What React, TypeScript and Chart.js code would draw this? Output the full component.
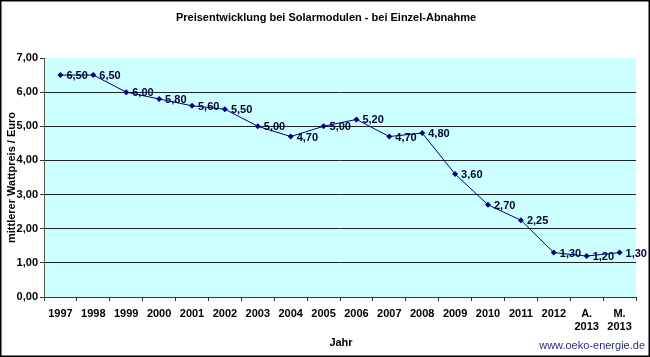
import React, { useEffect, useRef } from "react";
import { Chart, registerables } from "chart.js";

Chart.register(...registerables);

const categories: (string | string[])[] = [
  "1997", "1998", "1999", "2000", "2001", "2002", "2003", "2004", "2005",
  "2006", "2007", "2008", "2009", "2010", "2011", "2012", ["A.", "2013"], ["M.", "2013"],
];
const prices: number[] = [6.5, 6.5, 6.0, 5.8, 5.6, 5.5, 5.0, 4.7, 5.0, 5.2, 4.7, 4.8, 3.6, 2.7, 2.25, 1.3, 1.2, 1.3];
const yTicks: number[] = [0, 1, 2, 3, 4, 5, 6, 7];

const chartTitle = "Preisentwicklung bei Solarmodulen - bei Einzel-Abnahme";
const xTitle = "Jahr";
const yTitle = "mittlerer Wattpreis / Euro";
const watermark = "www.oeko-energie.de";

const FONT = "Arial, 'Liberation Sans', sans-serif";
const fmt = (v: number) => v.toFixed(2).replace(".", ",");

const decorPlugin = {
  id: "decor",
  beforeDraw(chart: any) {
    const { ctx, chartArea } = chart;
    ctx.save();
    ctx.fillStyle = "#ffffff";
    ctx.fillRect(0, 0, chart.width, chart.height);
    ctx.fillStyle = "#ccffff";
    ctx.fillRect(chartArea.left, chartArea.top, chartArea.right - chartArea.left, chartArea.bottom - chartArea.top);
    ctx.restore();
  },
  afterDraw(chart: any) {
    const { ctx, chartArea } = chart;
    ctx.save();
    // outer border
    ctx.strokeStyle = "#000";
    ctx.lineWidth = 1.5;
    ctx.strokeRect(0.75, 0.75, chart.width - 1.5, chart.height - 1.5);
    // title
    ctx.fillStyle = "#000";
    ctx.font = `bold 11px ${FONT}`;
    ctx.textAlign = "center";
    ctx.textBaseline = "middle";
    ctx.fillText(chartTitle, 326, 18);
    // x title
    ctx.fillText(xTitle, 341, 343);
    // y title
    ctx.save();
    ctx.translate(12, (chartArea.top + chartArea.bottom) / 2);
    ctx.rotate(-Math.PI / 2);
    ctx.fillText(yTitle, 0, 0);
    ctx.restore();
    // watermark
    ctx.font = `11px ${FONT}`;
    ctx.fillStyle = "#2b2b80";
    ctx.textAlign = "right";
    ctx.fillText(watermark, 645, 346);
    // data labels
    const meta = chart.getDatasetMeta(0);
    ctx.font = `bold 11px ${FONT}`;
    ctx.fillStyle = "#000033";
    ctx.textAlign = "left";
    meta.data.forEach((pt: any, i: number) => {
      ctx.fillText(fmt(prices[i]), pt.x + 6, pt.y + 1);
    });
    ctx.restore();
  },
};

export default function App() {
  const ref = useRef<HTMLCanvasElement | null>(null);
  useEffect(() => {
    document.body.style.margin = "0";
    const chart = new Chart(ref.current!, {
      type: "line",
      data: {
        labels: categories,
        datasets: [
          {
            data: prices,
            borderColor: "#000080",
            borderWidth: 1,
            backgroundColor: "#000080",
            pointStyle: "rectRot",
            pointRadius: 3,
            pointBorderWidth: 0,
            tension: 0,
          },
        ],
      },
      options: {
        responsive: false,
        animation: false,
        layout: { padding: { top: 58, right: 14, left: 0, bottom: 0 } },
        plugins: { legend: { display: false }, tooltip: { enabled: false }, title: { display: false } },
        scales: {
          x: {
            offset: true,
            afterFit: (s: any) => { s.height = 60; },
            grid: {
              offset: true,
              drawOnChartArea: false,
              drawTicks: true,
              tickLength: 4,
              color: "#333",
            },
            border: { color: "#333", width: 1 },
            ticks: {
              color: "#000",
              font: { family: FONT, size: 11, weight: "bold" },
              padding: 6,
              maxRotation: 0,
              autoSkip: false,
            },
          },
          y: {
            min: 0,
            max: 7,
            afterFit: (s: any) => { s.width = 44; },
            afterBuildTicks: (s: any) => { s.ticks = yTicks.map((v) => ({ value: v })); },
            grid: {
              color: (c: any) => (c.tick && c.tick.value === 7 ? "rgba(0,0,0,0)" : "#222"),
              tickColor: "#333",
              tickLength: 4,
              drawTicks: true,
            },
            border: { color: "#555", width: 1 },
            ticks: {
              color: "#000",
              font: { family: FONT, size: 11, weight: "bold" },
              padding: 2,
              callback: (v: any) => fmt(Number(v)),
            },
          },
        },
      },
      plugins: [decorPlugin],
    });
    return () => chart.destroy();
  }, []);
  return (
    <div style={{ position: "absolute", left: 0, top: 0, width: 650, height: 357 }}>
      <canvas ref={ref} width={650} height={357} style={{ width: 650, height: 357, display: "block" }} />
    </div>
  );
}
